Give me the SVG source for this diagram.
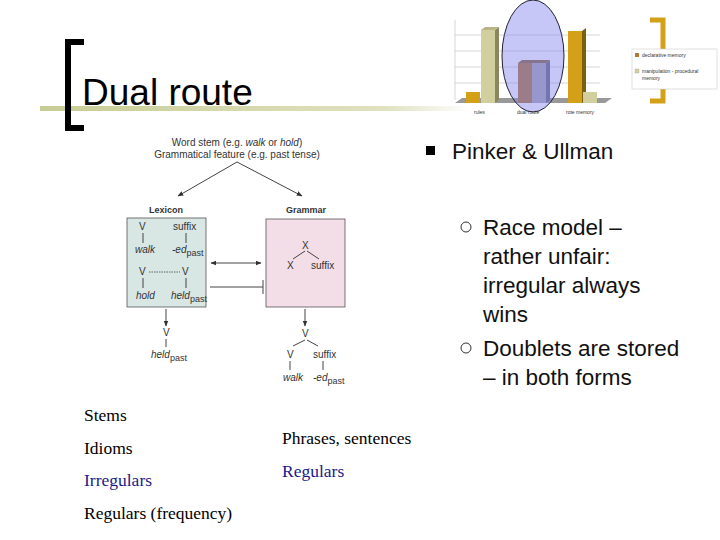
<svg xmlns="http://www.w3.org/2000/svg" width="720" height="540" viewBox="0 0 720 540">
<defs>
<style>
.s{font-family:"Liberation Sans",Arial,sans-serif;fill:#333}
.t{font-family:"Liberation Serif","Times New Roman",serif;font-size:17.5px}
.b{font-family:"Liberation Sans",Arial,sans-serif;font-size:22.5px;fill:#111}
.ln{stroke:#444;stroke-width:1;fill:none}
.sm{font-size:9px}
.i{font-style:italic}
</style>
<linearGradient id="gl" x1="0" x2="1"><stop offset="0" stop-color="#c8cc94"/><stop offset="0.8" stop-color="#dfe1bf"/><stop offset="1" stop-color="#fff"/></linearGradient>
<marker id="ah" viewBox="0 0 10 10" refX="9" refY="5" markerWidth="6" markerHeight="6" orient="auto-start-reverse"><path d="M0,1L10,5L0,9z" fill="#333"/></marker>
</defs>
<rect width="720" height="540" fill="#fff"/>
<rect x="40" y="106" width="430" height="5" fill="url(#gl)"/>
<path d="M84,42H68V128H84" fill="none" stroke="#000" stroke-width="6"/>
<text x="82" y="105" font-family="Liberation Sans,Arial,sans-serif" font-size="37" fill="#000">Dual route</text>
<g id="chart">
<path d="M455,100V20M455,83H600M455,67H600M455,51H600M455,35H600" stroke="#ccc" stroke-width="0.8"/>
<path d="M455,103H605L612,98H462z" fill="#999"/>
<rect x="466" y="92" width="14" height="11" fill="#d4a017"/>
<rect x="481" y="30" width="14" height="73" fill="#d2cf9e"/><path d="M495,30l4,-3v73l-4,3z" fill="#8a8760"/><path d="M481,30l4,-3h14l-4,3z" fill="#b8b488"/>
<rect x="518" y="63" width="14" height="40" fill="#b07a35"/>
<rect x="532" y="63" width="14" height="40" fill="#a9a9b5"/><path d="M546,63l4,-3v40l-4,3z" fill="#6a6a80"/><path d="M518,63l4,-3h28l-4,3z" fill="#8a6a40"/>
<rect x="568" y="31" width="14" height="72" fill="#d4a017"/><path d="M582,31l4,-3v72l-4,3z" fill="#7a6010"/>
<rect x="583" y="92" width="14" height="11" fill="#d2cf9e"/>
<ellipse cx="533" cy="56" rx="31" ry="56" fill="#8080ee" fill-opacity="0.45" stroke="#223" stroke-width="1"/>
<text x="474" y="114" font-family="Liberation Sans,Arial,sans-serif" font-size="5" fill="#333">rules</text>
<text x="517" y="114" font-family="Liberation Sans,Arial,sans-serif" font-size="5" fill="#333">dual route</text>
<text x="566" y="114" font-family="Liberation Sans,Arial,sans-serif" font-size="5" fill="#333">rote memory</text>
<path d="M650,20H663V101H650" fill="none" stroke="#d4a017" stroke-width="5"/>
<rect x="632" y="49" width="85" height="40" fill="#fff" stroke="#ccc" stroke-width="0.6"/>
<rect x="635" y="53" width="4" height="4" fill="#b07a35"/>
<text x="642" y="57" font-family="Liberation Sans,Arial,sans-serif" font-size="5" fill="#333">declarative memory</text>
<rect x="635" y="69" width="4" height="4" fill="#d2cf9e" stroke="#999" stroke-width="0.3"/>
<text x="642" y="73" font-family="Liberation Sans,Arial,sans-serif" font-size="5" fill="#333">manipulation - procedural</text>
<text x="642" y="80" font-family="Liberation Sans,Arial,sans-serif" font-size="5" fill="#333">memory</text>
</g>
<g id="bullets">
<rect x="426" y="146" width="9" height="9" fill="#000"/>
<text x="452" y="159" class="b" font-size="24">Pinker &amp; Ullman</text>
<circle cx="466" cy="227" r="5" fill="none" stroke="#333"/>
<text x="483" y="235" class="b">Race model –</text>
<text x="483" y="264" class="b">rather unfair:</text>
<text x="483" y="293" class="b">irregular always</text>
<text x="483" y="322" class="b">wins</text>
<circle cx="466" cy="348" r="5" fill="none" stroke="#333"/>
<text x="483" y="356" class="b">Doublets are stored</text>
<text x="483" y="385" class="b">– in both forms</text>
</g>
<g id="stem" class="s" font-size="10" text-anchor="middle">
<text x="237" y="146">Word stem (e.g. <tspan class="i">walk</tspan> or <tspan class="i">hold</tspan>)</text>
<text x="237" y="158">Grammatical feature (e.g. past tense)</text>
</g>
<g id="lexicon">
<text x="166" y="213" class="s" font-size="9" font-weight="bold" text-anchor="middle">Lexicon</text>
<rect x="127" y="218" width="79" height="89" fill="#d8e6e4" stroke="#555" stroke-width="0.8"/>
<g class="s" font-size="10">
<text x="139" y="230">V</text><text x="173" y="230">suffix</text>
<path d="M143,233V243M186,233V243" class="ln"/>
<text x="135" y="253" class="i">walk</text><text x="172" y="253"><tspan class="i">-ed</tspan><tspan class="sm" dy="3">past</tspan></text>
<text x="139" y="275">V</text><text x="182" y="275">V</text>
<path d="M149,272H180" stroke="#444" stroke-dasharray="1.5,1" stroke-width="0.8"/>
<path d="M143,278V288M186,278V288" class="ln"/>
<text x="136" y="299" class="i">hold</text><text x="171" y="299"><tspan class="i">held</tspan><tspan class="sm" dy="3">past</tspan></text>
</g>
</g>
<g id="grammar">
<text x="306" y="213" class="s" font-size="9" font-weight="bold" text-anchor="middle">Grammar</text>
<rect x="266" y="219" width="79" height="88" fill="#f3dde6" stroke="#555" stroke-width="0.8"/>
<g class="s" font-size="10">
<text x="302" y="249">X</text>
<path d="M305,251L293,259M307,251L319,259" class="ln"/>
<text x="287" y="269">X</text><text x="311" y="269">suffix</text>
</g>
</g>
<g id="outL" class="s" font-size="10">
<text x="163" y="336">V</text><path d="M166,339V347" class="ln"/>
<text x="151" y="358"><tspan class="i">held</tspan><tspan class="sm" dy="3">past</tspan></text>
</g>
<g id="outR" class="s" font-size="10">
<text x="302" y="337">V</text>
<path d="M305,340L293,346M307,340L318,346" class="ln"/>
<text x="287" y="358">V</text><text x="313" y="358">suffix</text>
<path d="M290,361V370M323,361V370" class="ln"/>
<text x="283" y="381" class="i">walk</text><text x="313" y="381"><tspan class="i">-ed</tspan><tspan class="sm" dy="3">past</tspan></text>
</g>
<g id="connectors">
<path d="M237,162L178,196" class="ln" marker-end="url(#ah)"/>
<path d="M237,162L302,196" class="ln" marker-end="url(#ah)"/>
<path d="M211,263H261" class="ln" marker-start="url(#ah)" marker-end="url(#ah)"/>
<path d="M210,287H263M263,280V294" class="ln"/>
<path d="M166,309V326" class="ln" marker-end="url(#ah)"/>
<path d="M305,309V326" class="ln" marker-end="url(#ah)"/>
</g>
<g id="lists" class="t" fill="#000">
<text x="84" y="421">Stems</text>
<text x="84" y="454">Idioms</text>
<text x="84" y="486" fill="#1a1a8a">Irregulars</text>
<text x="84" y="519">Regulars (frequency)</text>
<text x="282" y="444">Phrases, sentences</text>
<text x="282" y="477" fill="#1a1a8a">Regulars</text>
</g>
</svg>
